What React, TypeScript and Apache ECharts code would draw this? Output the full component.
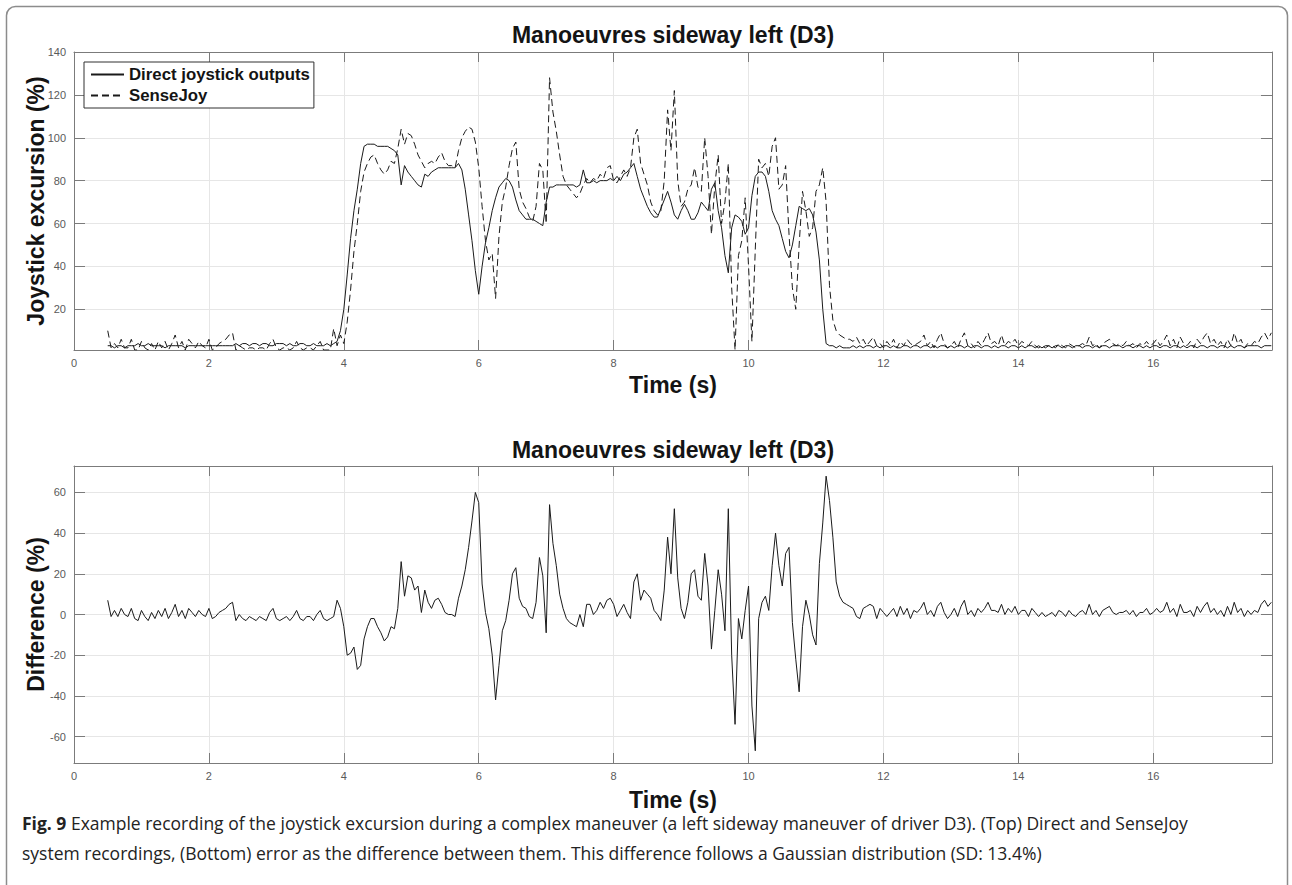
import React, { useEffect, useRef } from "react";
import * as echarts from "echarts";

// ---------- data ----------
const TIME_START = 0.5; // s, first sample
const TIME_STEP = 0.05; // s, sample spacing
const X_MAX = 17.76;
const X_TICK_STEP = 2;
const TOP_Y_RANGE = [1, 140];
const BOTTOM_Y_RANGE = [-73, 73];
const Y_TICK_STEP = 20;

const TITLE = "Manoeuvres sideway left (D3)";
const LEGEND_NAMES = ["Direct joystick outputs", "SenseJoy"];

// Direct joystick outputs (%), one row per second
const DIRECT = [
  3, 3, 2, 3, 3, 2, 3, 3, 3, 4, 3, 3, 4, 3, 3, 3, 3, 2, 3, 3,
  3, 3, 3, 2, 3, 3, 3, 3, 3, 3, 3, 3, 3, 3, 3, 3, 3, 3, 4, 3,
  4, 4, 3, 4, 4, 3, 4, 4, 3, 3, 4, 4, 4, 3, 4, 3, 3, 4, 4, 3,
  3, 4, 3, 3, 3, 4, 3, 4, 5, 10, 20, 36, 53, 66, 76, 88, 96, 97, 97, 97,
  96, 96, 96, 96, 95, 94, 92, 78, 87, 84, 82, 80, 78, 77, 83, 82, 84, 85, 86, 86,
  86, 86, 86, 86, 88, 85, 76, 64, 52, 38, 27, 40, 51, 58, 66, 72, 77, 79, 81, 80,
  77, 71, 66, 64, 62, 62, 62, 61, 60, 59, 70, 77, 77, 78, 78, 78, 78, 78, 78, 77,
  78, 85, 79, 79, 80, 79, 80, 80, 80, 81, 80, 82, 80, 83, 84, 86, 88, 82, 76, 72,
  68, 65, 63, 63, 67, 71, 75, 70, 64, 62, 66, 69, 66, 62, 62, 65, 70, 68, 66, 76,
  79, 66, 58, 45, 37, 58, 64, 63, 61, 55, 58, 73, 82, 84, 84, 82, 75, 66, 62, 59,
  53, 47, 44, 50, 59, 68, 67, 66, 67, 64, 56, 43, 20, 4, 3, 3, 2, 3, 2, 2,
  2, 3, 2, 3, 2, 3, 3, 2, 3, 2, 3, 3, 2, 3, 2, 2, 3, 3, 2, 3,
  3, 2, 3, 3, 2, 3, 2, 3, 3, 2, 3, 2, 3, 3, 2, 3, 2, 3, 3, 2,
  3, 3, 2, 3, 2, 3, 3, 2, 3, 3, 2, 3, 2, 3, 3, 2, 3, 2, 3, 3,
  2, 3, 3, 2, 3, 3, 2, 3, 3, 2, 3, 3, 2, 3, 2, 3, 3, 2, 3, 3,
  3, 2, 3, 3, 2, 3, 3, 2, 3, 2, 3, 3, 2, 3, 3, 2, 3, 3, 2, 3,
  2, 3, 3, 2, 3, 3, 2, 3, 3, 2, 3, 3, 2, 3, 2, 3, 3, 2, 3, 3,
  3, 3, 2, 3, 3, 3,
];

// SenseJoy recordings (%)
const SENSEJOY = [
  10, 2, 4, 2, 6, 2, 2, 6, 1, 1, 5, 2, 1, 4, 1, 5, 2, 5, 1, 4,
  8, 2, 5, 1, 6, 4, 2, 5, 3, 2, 6, 1, 2, 4, 5, 6, 8, 9, 1, 3,
  2, 1, 2, 2, 1, 2, 2, 1, 4, 6, 2, 1, 2, 2, 1, 2, 5, 2, 1, 2,
  2, 1, 3, 5, 1, 1, 1, 11, 3, 8, 4, 14, 29, 47, 60, 75, 84, 88, 91, 92,
  88, 85, 83, 85, 89, 88, 95, 104, 97, 102, 101, 97, 92, 89, 86, 88, 89, 88, 91, 93,
  89, 87, 87, 86, 94, 100, 103, 105, 104, 98, 86, 68, 52, 43, 46, 25, 54, 70, 77, 87,
  95, 98, 76, 70, 67, 63, 61, 68, 88, 85, 60, 128, 112, 103, 92, 82, 78, 76, 74, 72,
  74, 78, 81, 79, 81, 80, 83, 81, 86, 87, 80, 79, 82, 85, 82, 86, 100, 104, 88, 83,
  78, 70, 66, 64, 66, 80, 113, 94, 122, 80, 68, 70, 76, 78, 86, 77, 75, 100, 82, 55,
  78, 92, 60, 70, 88, 30, 1, 45, 52, 72, 40, 5, 48, 90, 86, 88, 82, 96, 100, 76,
  78, 87, 55, 30, 20, 50, 75, 66, 54, 58, 75, 78, 86, 70, 31, 15, 10, 8, 7, 6,
  6, 5, 7, 4, 6, 3, 5, 7, 3, 4, 2, 5, 3, 6, 2, 5, 3, 6, 4, 3,
  4, 5, 8, 3, 5, 2, 6, 9, 4, 2, 3, 5, 2, 6, 9, 3, 4, 2, 5, 3,
  6, 9, 4, 5, 3, 8, 3, 5, 4, 6, 3, 5, 4, 3, 5, 3, 2, 3, 2, 3,
  3, 2, 4, 3, 2, 4, 3, 2, 3, 4, 3, 7, 3, 4, 2, 4, 5, 6, 4, 3,
  4, 3, 5, 3, 4, 2, 4, 3, 5, 3, 4, 6, 3, 5, 8, 3, 6, 2, 7, 4,
  3, 5, 2, 6, 4, 7, 9, 4, 6, 3, 5, 2, 6, 3, 9, 4, 6, 2, 4, 3,
  5, 4, 7, 9, 6, 9,
];

// Difference (%) as plotted in the lower panel
const DIFFERENCE = [
  7, -1, 2, -1, 3, 0, -1, 3, -2, -3, 2, -1, -3, 1, -2, 2, -1, 3, -2, 1,
  5, -1, 2, -2, 3, 1, -1, 2, 0, -1, 3, -2, -1, 1, 2, 3, 5, 6, -3, 0,
  -2, -3, -1, -2, -3, -1, -2, -3, 1, 3, -2, -3, -2, -1, -3, -1, 2, -2, -3, -1,
  -1, -3, 0, 2, -2, -3, -2, -1, 7, 3, -6, -20, -19, -16, -27, -25, -12, -6, -2, -2,
  -6, -9, -13, -11, -6, -7, 3, 26, 9, 19, 18, 12, 14, 1, 12, 6, 3, 7, 8, 5,
  1, 0, 0, -1, 8, 14, 22, 33, 46, 60, 55, 15, 1, -7, -20, -42, -25, -8, -3, 7,
  20, 23, 8, 4, 3, -1, -2, 6, 28, 19, -9, 54, 35, 24, 10, 3, -2, -4, -5, -6,
  0, -6, 5, 5, 0, 2, 6, 3, 7, 8, 5, -1, 2, 5, 1, -2, 16, 20, 7, 12,
  10, 8, 2, 0, -3, 12, 38, 20, 52, 18, 3, -2, 6, 20, 22, 9, 7, 30, 14, -17,
  2, 22, 10, -8, 52, -20, -54, -2, -12, 2, 14, -45, -67, -2, 6, 9, 2, 24, 40, 24,
  14, 30, 33, -4, -22, -38, -6, 7, 0, -10, -15, 25, 45, 68, 56, 38, 16, 9, 6, 5,
  4, 3, -1, -2, 3, 4, 5, 4, -2, 3, 1, -1, 1, 3, -1, 4, 0, 3, -2, 2,
  1, 3, 6, 0, 2, -1, 4, 6, 1, -2, 0, 3, -1, 4, 7, 0, 2, -1, 3, 1,
  3, 6, 2, 2, 1, 5, 0, 3, 1, 4, 0, 2, 2, -1, 3, 1, -1, 1, -1, 0,
  1, -1, 2, 1, -1, 2, 0, -1, 1, 2, 0, 5, 0, 2, -1, 2, 3, 4, 1, 0,
  1, 1, 2, 0, 2, -1, 1, 1, 3, 0, 1, 3, 1, 2, 6, 1, 3, -1, 5, 1,
  1, 2, -1, 4, 1, 4, 6, 1, 3, 0, 2, -1, 4, 0, 6, 1, 3, -1, 2, 0,
  2, 1, 5, 7, 4, 6,
];

const TIME = DIRECT.map((_, i) => Math.round((TIME_START + i * TIME_STEP) * 100) / 100);

const CAPTION_LINE_1 =
  "{b|Fig. 9} Example recording of the joystick excursion during a complex maneuver (a left sideway maneuver of driver D3). (Top) Direct and SenseJoy";
const CAPTION_LINE_2 =
  "system recordings, (Bottom) error as the difference between them. This difference follows a Gaussian distribution (SD: 13.4%)";

// ---------- styling ----------
const FONT = "'Liberation Sans', Arial, Helvetica, sans-serif";
const CAPTION_FONT = "'Open Sans', 'Noto Sans', sans-serif";
const CAPTION_SIZE = 17.5;
const AXIS_GRAY = "#7b7b7b";
const LABEL_GRAY = "#5a5a5a";
const GRID_GRAY = "#e6e6e6";
const LINE_COLOR = "#1a1a1a";

const isStep = (v: number, step: number) => Math.abs(v / step - Math.round(v / step)) < 1e-6;

function xAxes(gridIndex: number, nameGap: number) {
  const common = {
    type: "value",
    gridIndex,
    min: 0,
    max: X_MAX,
    minInterval: X_TICK_STEP,
    maxInterval: X_TICK_STEP,
    axisLine: { show: true, onZero: false, lineStyle: { color: AXIS_GRAY, width: 1 } },
    axisTick: { show: true, inside: true, length: 10, lineStyle: { color: AXIS_GRAY, width: 1 } },
  };
  return [
    {
      ...common,
      position: "bottom",
      axisLabel: {
        color: LABEL_GRAY,
        fontSize: 11,
        fontFamily: FONT,
        margin: 7,
        formatter: (v: number) => (isStep(v, X_TICK_STEP) ? String(v) : ""),
      },
      splitLine: { show: true, lineStyle: { color: GRID_GRAY, width: 1 } },
      name: "Time (s)",
      nameLocation: "middle",
      nameGap,
      nameTextStyle: { fontSize: 23, fontWeight: "bold", color: "#141414", fontFamily: FONT },
    },
    {
      ...common,
      position: "top",
      axisLabel: { show: false },
      splitLine: { show: false },
    },
  ];
}

function yAxes(gridIndex: number, range: number[], name: string) {
  const common = {
    type: "value",
    gridIndex,
    min: range[0],
    max: range[1],
    minInterval: Y_TICK_STEP,
    maxInterval: Y_TICK_STEP,
    axisLine: { show: true, onZero: false, lineStyle: { color: AXIS_GRAY, width: 1 } },
    axisTick: { show: true, inside: true, length: 11, lineStyle: { color: AXIS_GRAY, width: 1 } },
  };
  return [
    {
      ...common,
      position: "left",
      axisLabel: {
        color: LABEL_GRAY,
        fontSize: 11,
        fontFamily: FONT,
        margin: 8,
        formatter: (v: number) =>
          (isStep(v, Y_TICK_STEP) && v !== 0) || (v === 0 && range[0] < 0) ? String(v) : "",
      },
      splitLine: { show: true, lineStyle: { color: GRID_GRAY, width: 1 } },
      name,
      nameLocation: "middle",
      nameGap: 27,
      nameMoveOverlap: false,
      nameTextStyle: { fontSize: 23, fontWeight: "bold", color: "#141414", fontFamily: FONT },
    },
    {
      ...common,
      position: "right",
      axisLabel: { show: false },
      splitLine: { show: false },
    },
  ];
}

export default function App() {
  const ref = useRef<HTMLDivElement>(null);

  useEffect(() => {
    if (!ref.current) return;
    const chart = echarts.init(ref.current, null, { renderer: "svg" });

    const directData = TIME.map((t, i) => [t, DIRECT[i]]);
    const senseData = TIME.map((t, i) => [t, SENSEJOY[i]]);
    const diffData = TIME.map((t, i) => [t, DIFFERENCE[i]]);

    const option = {
      animation: false,
      backgroundColor: "#ffffff",
      textStyle: { fontFamily: FONT },
      grid: [
        { left: 74, top: 52, width: 1198, height: 298, containLabel: false },
        { left: 74, top: 466, width: 1198, height: 297, containLabel: false },
      ],
      xAxis: [...xAxes(0, 23), ...xAxes(1, 25)],
      yAxis: [
        ...yAxes(0, TOP_Y_RANGE, "Joystick excursion (%)"),
        ...yAxes(1, BOTTOM_Y_RANGE, "Difference (%)"),
      ],
      legend: {
        show: true,
        data: LEGEND_NAMES,
        orient: "vertical",
        left: 84,
        top: 62,
        itemWidth: 33,
        itemHeight: 12,
        itemGap: 4,
        padding: [4, 4, 4, 6],
        borderColor: "#303030",
        borderWidth: 1,
        backgroundColor: "#ffffff",
        itemStyle: { opacity: 0 },
        textStyle: { fontSize: 16.8, fontWeight: "bold", color: "#141414", fontFamily: FONT },
        selectedMode: false,
      },
      graphic: [
        {
          type: "rect",
          z: -10,
          shape: { x: 6.5, y: 6.5, width: 1281, height: 900, r: 9 },
          style: { fill: "none", stroke: "#8c8c8c", lineWidth: 1.5 },
          silent: true,
        },
        {
          type: "text",
          x: 673,
          y: 35,
          style: {
            text: TITLE,
            font: `bold 23px ${FONT}`,
            fill: "#141414",
            align: "center",
            verticalAlign: "middle",
            textAlign: "center",
            textVerticalAlign: "middle",
          },
          silent: true,
        },
        {
          type: "text",
          x: 673,
          y: 450,
          style: {
            text: TITLE,
            font: `bold 23px ${FONT}`,
            fill: "#141414",
            align: "center",
            verticalAlign: "middle",
            textAlign: "center",
            textVerticalAlign: "middle",
          },
          silent: true,
        },
        {
          type: "text",
          x: 22,
          y: 823,
          style: {
            text: CAPTION_LINE_1,
            font: `${CAPTION_SIZE}px ${CAPTION_FONT}`,
            fill: "#232323",
            verticalAlign: "middle",
            textVerticalAlign: "middle",
            rich: {
              b: { fontWeight: "bold", fontSize: CAPTION_SIZE, fontFamily: CAPTION_FONT, fill: "#232323" },
            },
          },
          silent: true,
        },
        {
          type: "text",
          x: 22,
          y: 853,
          style: {
            text: CAPTION_LINE_2,
            font: `${CAPTION_SIZE}px ${CAPTION_FONT}`,
            fill: "#232323",
            verticalAlign: "middle",
            textVerticalAlign: "middle",
          },
          silent: true,
        },
      ],
      series: [
        {
          type: "line",
          name: LEGEND_NAMES[0],
          xAxisIndex: 0,
          yAxisIndex: 0,
          data: directData,
          symbol: "none",
          showSymbol: false,
          silent: true,
          lineStyle: { color: LINE_COLOR, width: 1 },
          itemStyle: { color: LINE_COLOR },
          z: 3,
        },
        {
          type: "line",
          name: LEGEND_NAMES[1],
          xAxisIndex: 0,
          yAxisIndex: 0,
          data: senseData,
          symbol: "none",
          showSymbol: false,
          silent: true,
          lineStyle: { color: LINE_COLOR, width: 1, type: [7, 4] },
          itemStyle: { color: LINE_COLOR },
          z: 2,
        },
        {
          type: "line",
          name: "Difference",
          xAxisIndex: 2,
          yAxisIndex: 2,
          data: diffData,
          symbol: "none",
          showSymbol: false,
          silent: true,
          lineStyle: { color: LINE_COLOR, width: 1 },
          itemStyle: { color: LINE_COLOR },
        },
      ],
    };

    chart.setOption(option as any);
    return () => chart.dispose();
  }, []);

  return (
    <div
      ref={ref}
      style={{ position: "fixed", left: 0, top: 0, width: 1292, height: 885, background: "#ffffff" }}
    />
  );
}
